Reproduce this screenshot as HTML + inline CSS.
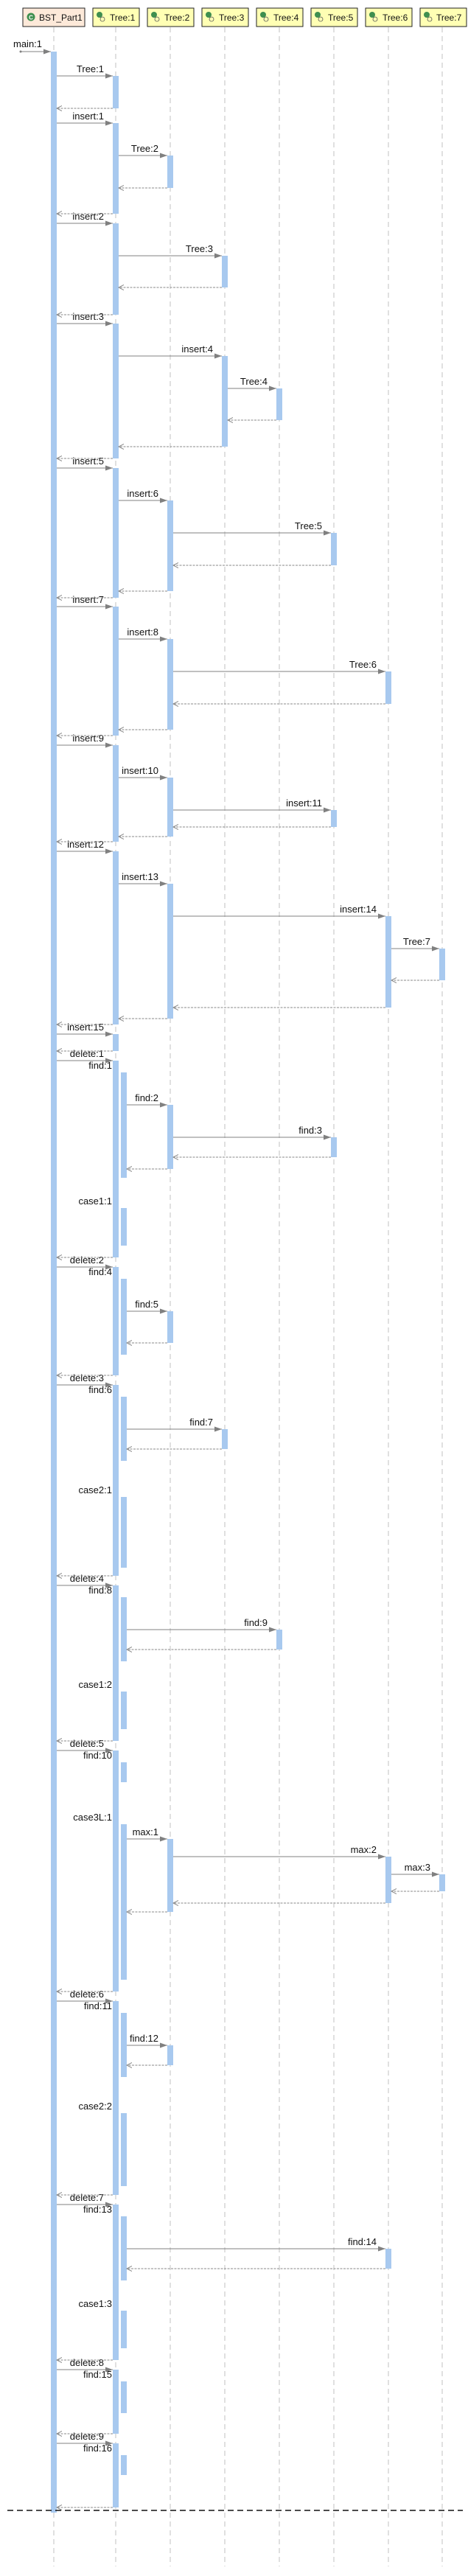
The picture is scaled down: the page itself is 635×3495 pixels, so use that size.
<!DOCTYPE html>
<html><head><meta charset="utf-8"><style>
html,body{margin:0;padding:0;background:#fff;}
svg{display:block;}
.ll{stroke:#c0c0c0;stroke-width:1;stroke-dasharray:7 5;}
.a{fill:#a8c9ef;}
.c{stroke:#808080;stroke-width:1;marker-end:url(#fa);}
.r{stroke:#8a8a8a;stroke-width:1;stroke-dasharray:3 1.5;marker-end:url(#oa);}
text{font-family:"Liberation Sans",sans-serif;font-size:13px;fill:#111;}
.h{font-size:12px;}
.e{text-anchor:end;}
</style></head><body>
<svg width="635" height="3495" viewBox="0 0 635 3495" xmlns="http://www.w3.org/2000/svg">
<defs>
<marker id="fa" markerUnits="userSpaceOnUse" markerWidth="11" markerHeight="8" refX="10" refY="3.5" orient="auto"><path d="M0,0 L10,3.5 L0,7 z" fill="#808080"/></marker>
<marker id="oa" markerUnits="userSpaceOnUse" markerWidth="9" markerHeight="9" refX="7" refY="4" orient="auto"><path d="M0,0.5 L7,4 L0,7.5" fill="none" stroke="#8a8a8a" stroke-width="1"/></marker>
</defs>
<!-- lifelines -->
<line class="ll" x1="73" y1="37" x2="73" y2="3482"/>
<line class="ll" x1="157" y1="37" x2="157" y2="3482"/>
<line class="ll" x1="231" y1="37" x2="231" y2="3482"/>
<line class="ll" x1="305" y1="37" x2="305" y2="3482"/>
<line class="ll" x1="379" y1="37" x2="379" y2="3482"/>
<line class="ll" x1="453" y1="37" x2="453" y2="3482"/>
<line class="ll" x1="527" y1="37" x2="527" y2="3482"/>
<line class="ll" x1="600" y1="37" x2="600" y2="3482"/>
<!-- headers -->
<rect x="31" y="11" width="84" height="25" fill="#fde9d9" stroke="#222"/>
<circle cx="42" cy="23" r="5.5" fill="#3f8f4f"/><text x="42" y="26.5" style="font-size:8px;font-weight:bold;fill:#fff;text-anchor:middle">C</text>
<text class="h" x="53" y="28">BST_Part1</text>
<g id="tb">
<rect x="126" y="11" width="63" height="25" fill="#ffffb4" stroke="#222"/>
<circle cx="135" cy="20" r="4" fill="#3f8f4f"/><circle cx="139" cy="26" r="3" fill="#ffffb4" stroke="#555" stroke-width="0.8"/>
</g>
<text class="h" x="149" y="28">Tree:1</text>
<use href="#tb" x="74"/><text class="h" x="223" y="28">Tree:2</text>
<use href="#tb" x="148"/><text class="h" x="297" y="28">Tree:3</text>
<use href="#tb" x="222"/><text class="h" x="371" y="28">Tree:4</text>
<use href="#tb" x="296"/><text class="h" x="445" y="28">Tree:5</text>
<use href="#tb" x="370"/><text class="h" x="519" y="28">Tree:6</text>
<use href="#tb" x="444"/><text class="h" x="592" y="28">Tree:7</text>

<!-- activations -->
<rect class="a" x="69" y="70" width="8" height="3339"/>
<g>
<rect class="a" x="153" y="103" width="8" height="44"/>
<rect class="a" x="153" y="167" width="8" height="123"/>
<rect class="a" x="153" y="303" width="8" height="124"/>
<rect class="a" x="153" y="439" width="8" height="183"/>
<rect class="a" x="153" y="635" width="8" height="176"/>
<rect class="a" x="153" y="823" width="8" height="175"/>
<rect class="a" x="153" y="1011" width="8" height="131"/>
<rect class="a" x="153" y="1155" width="8" height="235"/>
<rect class="a" x="153" y="1403" width="8" height="23"/>
<rect class="a" x="153" y="1439" width="8" height="267"/>
<rect class="a" x="153" y="1719" width="8" height="147"/>
<rect class="a" x="153" y="1879" width="8" height="259"/>
<rect class="a" x="153" y="2151" width="8" height="211"/>
<rect class="a" x="153" y="2375" width="8" height="327"/>
<rect class="a" x="153" y="2715" width="8" height="263"/>
<rect class="a" x="153" y="2991" width="8" height="211"/>
<rect class="a" x="153" y="3215" width="8" height="87"/>
<rect class="a" x="153" y="3315" width="8" height="87"/>
</g>
<g>
<rect class="a" x="164" y="1455" width="8" height="143"/>
<rect class="a" x="164" y="1639" width="8" height="51"/>
<rect class="a" x="164" y="1735" width="8" height="103"/>
<rect class="a" x="164" y="1895" width="8" height="87"/>
<rect class="a" x="164" y="2031" width="8" height="96"/>
<rect class="a" x="164" y="2167" width="8" height="87"/>
<rect class="a" x="164" y="2295" width="8" height="51"/>
<rect class="a" x="164" y="2391" width="8" height="27"/>
<rect class="a" x="164" y="2475" width="8" height="211"/>
<rect class="a" x="164" y="2731" width="8" height="87"/>
<rect class="a" x="164" y="2867" width="8" height="99"/>
<rect class="a" x="164" y="3007" width="8" height="87"/>
<rect class="a" x="164" y="3135" width="8" height="51"/>
<rect class="a" x="164" y="3231" width="8" height="43"/>
<rect class="a" x="164" y="3331" width="8" height="27"/>
</g>
<g>
<rect class="a" x="227" y="211" width="8" height="44"/>
<rect class="a" x="227" y="679" width="8" height="123"/>
<rect class="a" x="227" y="867" width="8" height="123"/>
<rect class="a" x="227" y="1055" width="8" height="80"/>
<rect class="a" x="227" y="1199" width="8" height="183"/>
<rect class="a" x="227" y="1499" width="8" height="87"/>
<rect class="a" x="227" y="1779" width="8" height="43"/>
<rect class="a" x="227" y="2495" width="8" height="99"/>
<rect class="a" x="227" y="2775" width="8" height="27"/>
<rect class="a" x="301" y="347" width="8" height="43"/>
<rect class="a" x="301" y="483" width="8" height="123"/>
<rect class="a" x="301" y="1939" width="8" height="27"/>
<rect class="a" x="375" y="527" width="8" height="43"/>
<rect class="a" x="375" y="2211" width="8" height="27"/>
<rect class="a" x="449" y="723" width="8" height="44"/>
<rect class="a" x="449" y="1099" width="8" height="23"/>
<rect class="a" x="449" y="1543" width="8" height="27"/>
<rect class="a" x="523" y="911" width="8" height="44"/>
<rect class="a" x="523" y="1243" width="8" height="124"/>
<rect class="a" x="523" y="2519" width="8" height="63"/>
<rect class="a" x="523" y="3051" width="8" height="27"/>
<rect class="a" x="596" y="1287" width="8" height="43"/>
<rect class="a" x="596" y="2543" width="8" height="23"/>
</g>

<!-- main -->
<circle cx="28" cy="70" r="1.5" fill="#808080"/>
<line class="c" x1="28" y1="70" x2="69" y2="70"/>
<text x="18" y="64">main:1</text>

<!-- BST -> Tree1 calls -->
<g>
<line class="c" x1="77" y1="103" x2="153" y2="103"/><text class="e" x="141" y="98">Tree:1</text>
<line class="c" x1="77" y1="167" x2="153" y2="167"/><text class="e" x="141" y="162">insert:1</text>
<line class="c" x1="77" y1="303" x2="153" y2="303"/><text class="e" x="141" y="298">insert:2</text>
<line class="c" x1="77" y1="439" x2="153" y2="439"/><text class="e" x="141" y="434">insert:3</text>
<line class="c" x1="77" y1="635" x2="153" y2="635"/><text class="e" x="141" y="630">insert:5</text>
<line class="c" x1="77" y1="823" x2="153" y2="823"/><text class="e" x="141" y="818">insert:7</text>
<line class="c" x1="77" y1="1011" x2="153" y2="1011"/><text class="e" x="141" y="1006">insert:9</text>
<line class="c" x1="77" y1="1155" x2="153" y2="1155"/><text class="e" x="141" y="1150">insert:12</text>
<line class="c" x1="77" y1="1403" x2="153" y2="1403"/><text class="e" x="141" y="1398">insert:15</text>
<line class="c" x1="77" y1="1439" x2="153" y2="1439"/><text class="e" x="141" y="1434">delete:1</text>
<line class="c" x1="77" y1="1719" x2="153" y2="1719"/><text class="e" x="141" y="1714">delete:2</text>
<line class="c" x1="77" y1="1879" x2="153" y2="1879"/><text class="e" x="141" y="1874">delete:3</text>
<line class="c" x1="77" y1="2151" x2="153" y2="2151"/><text class="e" x="141" y="2146">delete:4</text>
<line class="c" x1="77" y1="2375" x2="153" y2="2375"/><text class="e" x="141" y="2370">delete:5</text>
<line class="c" x1="77" y1="2715" x2="153" y2="2715"/><text class="e" x="141" y="2710">delete:6</text>
<line class="c" x1="77" y1="2991" x2="153" y2="2991"/><text class="e" x="141" y="2986">delete:7</text>
<line class="c" x1="77" y1="3215" x2="153" y2="3215"/><text class="e" x="141" y="3210">delete:8</text>
<line class="c" x1="77" y1="3315" x2="153" y2="3315"/><text class="e" x="141" y="3310">delete:9</text>
</g>
<!-- self call labels -->
<g>
<text class="e" x="152" y="1450">find:1</text>
<text class="e" x="152" y="1634">case1:1</text>
<text class="e" x="152" y="1730">find:4</text>
<text class="e" x="152" y="1890">find:6</text>
<text class="e" x="152" y="2026">case2:1</text>
<text class="e" x="152" y="2162">find:8</text>
<text class="e" x="152" y="2290">case1:2</text>
<text class="e" x="152" y="2386">find:10</text>
<text class="e" x="152" y="2470">case3L:1</text>
<text class="e" x="152" y="2726">find:11</text>
<text class="e" x="152" y="2862">case2:2</text>
<text class="e" x="152" y="3002">find:13</text>
<text class="e" x="152" y="3130">case1:3</text>
<text class="e" x="152" y="3226">find:15</text>
<text class="e" x="152" y="3326">find:16</text>
</g>
<!-- other calls -->
<g>
<line class="c" x1="161" y1="211" x2="227" y2="211"/><text class="e" x="215" y="206">Tree:2</text>
<line class="c" x1="161" y1="679" x2="227" y2="679"/><text class="e" x="215" y="674">insert:6</text>
<line class="c" x1="161" y1="867" x2="227" y2="867"/><text class="e" x="215" y="862">insert:8</text>
<line class="c" x1="161" y1="1055" x2="227" y2="1055"/><text class="e" x="215" y="1050">insert:10</text>
<line class="c" x1="161" y1="1199" x2="227" y2="1199"/><text class="e" x="215" y="1194">insert:13</text>
<line class="c" x1="161" y1="347" x2="301" y2="347"/><text class="e" x="289" y="342">Tree:3</text>
<line class="c" x1="161" y1="483" x2="301" y2="483"/><text class="e" x="289" y="478">insert:4</text>
<line class="c" x1="309" y1="527" x2="375" y2="527"/><text class="e" x="363" y="522">Tree:4</text>
<line class="c" x1="235" y1="723" x2="449" y2="723"/><text class="e" x="437" y="718">Tree:5</text>
<line class="c" x1="235" y1="1099" x2="449" y2="1099"/><text class="e" x="437" y="1094">insert:11</text>
<line class="c" x1="235" y1="911" x2="523" y2="911"/><text class="e" x="511" y="906">Tree:6</text>
<line class="c" x1="235" y1="1243" x2="523" y2="1243"/><text class="e" x="511" y="1238">insert:14</text>
<line class="c" x1="531" y1="1287" x2="596" y2="1287"/><text class="e" x="584" y="1282">Tree:7</text>
<line class="c" x1="172" y1="1499" x2="227" y2="1499"/><text class="e" x="215" y="1494">find:2</text>
<line class="c" x1="235" y1="1543" x2="449" y2="1543"/><text class="e" x="437" y="1538">find:3</text>
<line class="c" x1="172" y1="1779" x2="227" y2="1779"/><text class="e" x="215" y="1774">find:5</text>
<line class="c" x1="172" y1="1939" x2="301" y2="1939"/><text class="e" x="289" y="1934">find:7</text>
<line class="c" x1="172" y1="2211" x2="375" y2="2211"/><text class="e" x="363" y="2206">find:9</text>
<line class="c" x1="172" y1="2495" x2="227" y2="2495"/><text class="e" x="215" y="2490">max:1</text>
<line class="c" x1="235" y1="2519" x2="523" y2="2519"/><text class="e" x="511" y="2514">max:2</text>
<line class="c" x1="531" y1="2543" x2="596" y2="2543"/><text class="e" x="584" y="2538">max:3</text>
<line class="c" x1="172" y1="2775" x2="227" y2="2775"/><text class="e" x="215" y="2770">find:12</text>
<line class="c" x1="172" y1="3051" x2="523" y2="3051"/><text class="e" x="511" y="3046">find:14</text>
</g>
<!-- returns -->
<g>
<line class="r" x1="153" y1="147" x2="77" y2="147"/>
<line class="r" x1="153" y1="290" x2="77" y2="290"/>
<line class="r" x1="153" y1="427" x2="77" y2="427"/>
<line class="r" x1="153" y1="622" x2="77" y2="622"/>
<line class="r" x1="153" y1="811" x2="77" y2="811"/>
<line class="r" x1="153" y1="998" x2="77" y2="998"/>
<line class="r" x1="153" y1="1142" x2="77" y2="1142"/>
<line class="r" x1="153" y1="1390" x2="77" y2="1390"/>
<line class="r" x1="153" y1="1426" x2="77" y2="1426"/>
<line class="r" x1="153" y1="1706" x2="77" y2="1706"/>
<line class="r" x1="153" y1="1866" x2="77" y2="1866"/>
<line class="r" x1="153" y1="2138" x2="77" y2="2138"/>
<line class="r" x1="153" y1="2362" x2="77" y2="2362"/>
<line class="r" x1="153" y1="2702" x2="77" y2="2702"/>
<line class="r" x1="153" y1="2978" x2="77" y2="2978"/>
<line class="r" x1="153" y1="3202" x2="77" y2="3202"/>
<line class="r" x1="153" y1="3302" x2="77" y2="3302"/>
<line class="r" x1="153" y1="3402" x2="77" y2="3402"/>
<line class="r" x1="227" y1="255" x2="161" y2="255"/>
<line class="r" x1="227" y1="802" x2="161" y2="802"/>
<line class="r" x1="227" y1="990" x2="161" y2="990"/>
<line class="r" x1="227" y1="1135" x2="161" y2="1135"/>
<line class="r" x1="227" y1="1382" x2="161" y2="1382"/>
<line class="r" x1="301" y1="390" x2="161" y2="390"/>
<line class="r" x1="301" y1="606" x2="161" y2="606"/>
<line class="r" x1="375" y1="570" x2="309" y2="570"/>
<line class="r" x1="449" y1="767" x2="235" y2="767"/>
<line class="r" x1="449" y1="1122" x2="235" y2="1122"/>
<line class="r" x1="449" y1="1570" x2="235" y2="1570"/>
<line class="r" x1="523" y1="955" x2="235" y2="955"/>
<line class="r" x1="523" y1="1367" x2="235" y2="1367"/>
<line class="r" x1="523" y1="2582" x2="235" y2="2582"/>
<line class="r" x1="596" y1="1330" x2="531" y2="1330"/>
<line class="r" x1="596" y1="2566" x2="531" y2="2566"/>
<line class="r" x1="227" y1="1586" x2="172" y2="1586"/>
<line class="r" x1="227" y1="1822" x2="172" y2="1822"/>
<line class="r" x1="227" y1="2594" x2="172" y2="2594"/>
<line class="r" x1="227" y1="2802" x2="172" y2="2802"/>
<line class="r" x1="301" y1="1966" x2="172" y2="1966"/>
<line class="r" x1="375" y1="2238" x2="172" y2="2238"/>
<line class="r" x1="523" y1="3078" x2="172" y2="3078"/>
</g>
<line x1="10" y1="3406" x2="628" y2="3406" stroke="#111" stroke-width="1.5" stroke-dasharray="8 5"/>
</svg>
</body></html>
